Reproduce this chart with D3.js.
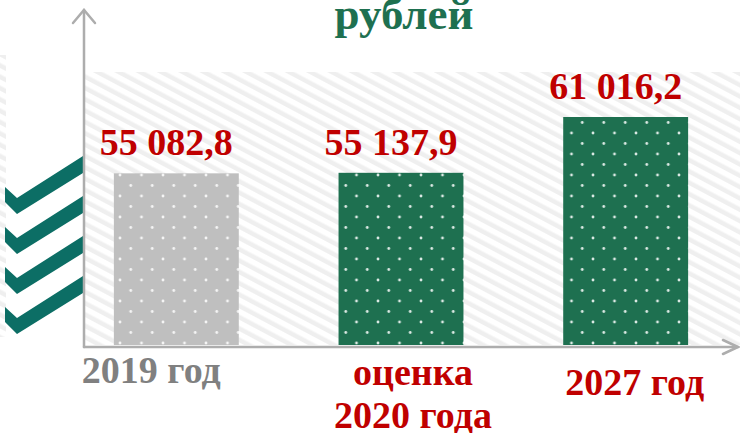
<!DOCTYPE html>
<html>
<head>
<meta charset="utf-8">
<script src="https://cdn.jsdelivr.net/npm/d3@7"></script>
<style>
  html, body { margin: 0; padding: 0; background: #fff; }
  svg { display: block; }
  text { font-family: "Liberation Serif", "Times New Roman", serif; font-weight: bold; }
</style>
</head>
<body>
<div id="chart"></div>
<script>
// chart data
const title = "рублей";
const categories = [["2019 год"], ["оценка", "2020 года"], ["2027 год"]];
const values = [55082.8, 55137.9, 61016.2];
const valueLabels = ["55 082,8", "55 137,9", "61 016,2"];
const barColors = ["#bfbfbf", "#1e7050", "#1e7050"];
const categoryColors = ["#808080", "#c00000", "#c00000"];

const width = 740;
const height = 433;
const baseY = 345;
const axisColor = "#adadad";

// label nudges (text boxes are not exactly centred in the original)
const catShift = [[-25, 383], [12, 385], [9, 395]];

const svg = d3.select("#chart")
    .append("svg")
    .attr("width", width)
    .attr("height", height)
    .attr("viewBox", `0 0 ${width} ${height}`);

const defs = svg.append("defs");

// diagonal stripes for the background
const stripes = defs.append("pattern")
    .attr("id", "stripes")
    .attr("patternUnits", "userSpaceOnUse")
    .attr("width", 10)
    .attr("height", 10)
    .attr("patternTransform", "rotate(-62)");
stripes.append("rect").attr("width", 10).attr("height", 10).attr("fill", "#fff");
stripes.append("rect").attr("width", 4.5).attr("height", 10).attr("fill", "#efefef");

// dotted fill for the bars, one pattern per colour
barColors.forEach((c, i) => {
    const p = defs.append("pattern")
        .attr("id", "dots" + i)
        .attr("patternUnits", "userSpaceOnUse")
        .attr("x", 120)
        .attr("y", 196)
        .attr("width", 21.5)
        .attr("height", 21);
    p.append("rect").attr("width", 21.5).attr("height", 21).attr("fill", c);
    [[0, 0], [21.5, 0], [0, 21], [21.5, 21], [10.75, 10.5]].forEach(([cx, cy]) => {
        p.append("circle")
            .attr("cx", cx).attr("cy", cy).attr("r", 1.4)
            .attr("fill", "#fff").attr("opacity", 0.85);
    });
});

// background panels
svg.append("rect")
    .attr("x", 85).attr("y", 72)
    .attr("width", width - 85).attr("height", baseY - 72)
    .attr("fill", "url(#stripes)");
svg.append("rect")
    .attr("x", 0).attr("y", 55)
    .attr("width", 6).attr("height", 282)
    .attr("fill", "url(#stripes)");

// chevron decoration on the left
const chevrons = svg.append("g");
d3.range(4).forEach(i => {
    const t = 156 + i * 40;
    chevrons.append("polygon")
        .attr("points", [[5, t + 31], [17, t + 42], [83, t], [83, t + 17], [17, t + 58], [5, t + 46]].join(" "))
        .attr("fill", "#0c6e65");
});

// scales
const x = d3.scaleBand()
    .domain(d3.range(values.length))
    .range([64, 738])
    .paddingInner(0.444)
    .paddingOuter(0.222);

const y = d3.scaleLinear()
    .domain([37000, d3.max(values)])
    .range([baseY, 117]);

// bars
svg.selectAll(".bar")
    .data(values)
    .enter()
    .append("rect")
    .attr("class", "bar")
    .attr("x", (d, i) => x(i))
    .attr("y", d => y(d))
    .attr("width", x.bandwidth())
    .attr("height", d => baseY - y(d))
    .attr("fill", (d, i) => `url(#dots${i})`);

// value labels
svg.selectAll(".value-label")
    .data(values)
    .enter()
    .append("text")
    .attr("class", "value-label")
    .attr("x", (d, i) => x(i) + x.bandwidth() / 2 - 10)
    .attr("y", d => y(d) - 18)
    .attr("text-anchor", "middle")
    .attr("font-size", 38)
    .attr("fill", "#c00000")
    .text((d, i) => valueLabels[i]);

// axes with arrow heads
const axes = svg.append("g")
    .attr("fill", "none")
    .attr("stroke", axisColor)
    .attr("stroke-width", 2.5)
    .attr("stroke-linecap", "round");
axes.append("line").attr("x1", 84).attr("y1", 10).attr("x2", 84).attr("y2", baseY + 2);
axes.append("polyline").attr("points", "73,23 84,10 95,23");
axes.append("line").attr("x1", 84).attr("y1", baseY + 2).attr("x2", 738).attr("y2", baseY + 2);
axes.append("polyline").attr("points", "723,340 738,347 723,354");

// category labels
svg.selectAll(".cat-label")
    .data(categories)
    .enter()
    .append("text")
    .attr("class", "cat-label")
    .attr("text-anchor", "middle")
    .attr("font-size", 38)
    .attr("fill", (d, i) => categoryColors[i])
    .each(function(lines, i) {
        const cx = x(i) + x.bandwidth() / 2 + catShift[i][0];
        d3.select(this).selectAll("tspan")
            .data(lines)
            .enter()
            .append("tspan")
            .attr("x", cx)
            .attr("y", (l, j) => catShift[i][1] + j * 43)
            .text(l => l);
    });

// title
svg.append("text")
    .attr("x", 404)
    .attr("y", 29)
    .attr("text-anchor", "middle")
    .attr("font-size", 45)
    .attr("fill", "#1e7050")
    .text(title);
</script>
</body>
</html>
